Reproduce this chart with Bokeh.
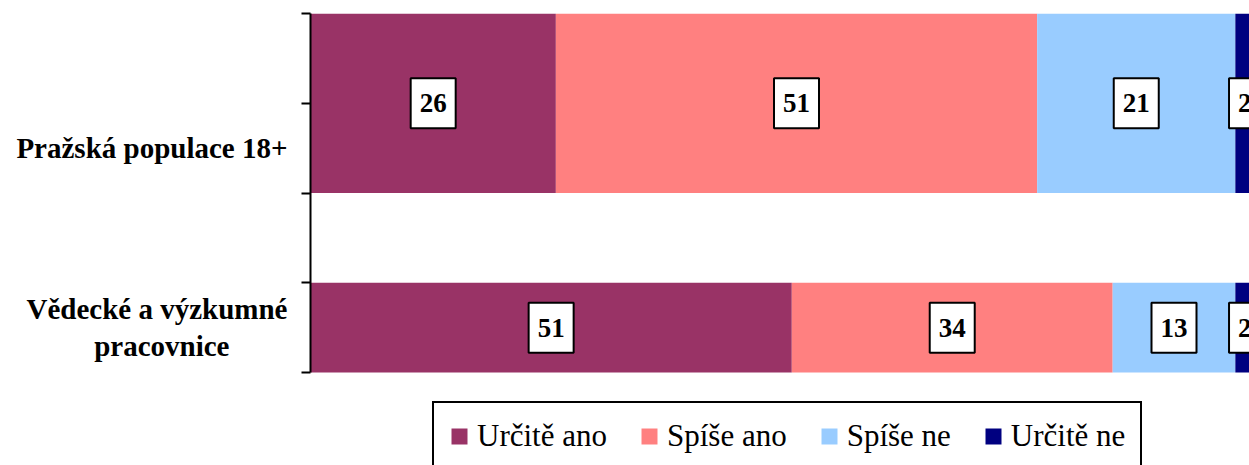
from bokeh.plotting import figure
from bokeh.models import ColumnDataSource, Range1d, FixedTicker, LinearAxis
from bokeh.core.properties import value
from bokeh.embed import file_html
from bokeh.resources import INLINE

# ---- data ----
categories = ["Pražská populace 18+", "Vědecké a výzkumné\npracovnice"]
series = ["Určitě ano", "Spíše ano", "Spíše ne", "Určitě ne"]
urcite_ano = [26, 51]
spise_ano = [51, 34]
spise_ne = [21, 13]
urcite_ne = [2, 2]
colors = ["#993366", "#FF8080", "#99CCFF", "#000080"]

# ---- layout (slot units, bottom = 0) ----
bar_center = [3.0, 0.5]
bar_height = [2.0, 1.0]
cat_label_y = [2.5, 0.5]
W, H = 1249, 465
FRAME_LEFT, FRAME_TOP = 310, 13
SLOT_PX = 89.75
AXIS_BOTTOM_PX = FRAME_TOP + 4 * SLOT_PX
y_low = -(H - AXIS_BOTTOM_PX) / SLOT_PX

FONT = "Liberation Serif"
all_vals = [urcite_ano, spise_ano, spise_ne, urcite_ne]
keys = ["s0", "s1", "s2", "s3"]

src = ColumnDataSource(dict(y=bar_center, h=bar_height, **{k: v for k, v in zip(keys, all_vals)}))

p = figure(width=W, height=H, output_backend="svg", toolbar_location=None,
           x_range=Range1d(0, 99.5), y_range=Range1d(y_low, 4), x_axis_location=None,
           min_border_left=FRAME_LEFT, min_border_right=0, min_border_top=FRAME_TOP,
           min_border_bottom=0, title=None)

p.hbar_stack(keys, y="y", height="h", color=colors, line_color=None, source=src,
             legend_label=series)

# value labels
xs, ys, ts = [], [], []
for i in range(len(categories)):
    left = 0
    for vals in all_vals:
        v = vals[i]
        xs.append(left + v / 2)
        ys.append(bar_center[i])
        ts.append(str(v))
        left += v
lsrc = ColumnDataSource(dict(x=xs, y=ys, t=ts))
p.text(x="x", y="y", text="t", source=lsrc, text_font=value(FONT), text_font_style="bold",
       text_font_size="27px", text_align="center", text_baseline="middle", text_color="black",
       background_fill_color="white", border_line_color="black", border_line_width=2,
       padding=dict(left=9, right=9, top=16, bottom=16))

# y axis (line + ticks)
ax = p.yaxis[0]
ax.ticker = FixedTicker(ticks=[0, 1, 2, 3, 4])
ax.bounds = (0, 4)
ax.major_label_text_font_size = "0px"
ax.major_label_standoff = 0
ax.axis_line_width = 2
ax.axis_line_color = "black"
ax.major_tick_line_width = 2
ax.major_tick_out = 9
ax.major_tick_in = 0
ax.minor_tick_in = 0
ax.minor_tick_out = 0

# category labels axis (multi-line labels centred by padding the shorter line)
def centred(label):
    lines = label.split("\n")
    if len(lines) == 1:
        return label
    longest = max(len(l) for l in lines)
    out = []
    for l in lines:
        pad = longest - len(l)
        out.append(l + "\u00a0" * pad)
    return "\n".join(out)

cat_axis = LinearAxis(ticker=FixedTicker(ticks=cat_label_y),
                      major_label_overrides={yy: centred(c) for yy, c in zip(cat_label_y, categories)},
                      axis_line_color=None, major_tick_line_color=None,
                      minor_tick_line_color=None, major_label_standoff=8,
                      major_label_text_font=FONT, major_label_text_font_style="bold",
                      major_label_text_font_size="29px", major_label_text_color="black",
                      major_label_text_line_height=1.15, bounds=(0, 4))
p.add_layout(cat_axis, "left")

p.grid.visible = False
p.outline_line_color = None

lg = p.legend[0]
lg.location = (122, -6)
lg.orientation = "horizontal"
lg.label_text_font = FONT
lg.label_text_font_size = "31px"
lg.label_text_color = "black"
lg.glyph_width = 20
lg.glyph_height = 20
lg.label_standoff = 8
lg.spacing = 32
lg.padding = 15
lg.margin = 0
lg.border_line_color = "black"
lg.border_line_alpha = 1
lg.border_line_width = 2
lg.background_fill_color = "white"
lg.background_fill_alpha = 1

open("out.html", "w").write(file_html(p, INLINE))
